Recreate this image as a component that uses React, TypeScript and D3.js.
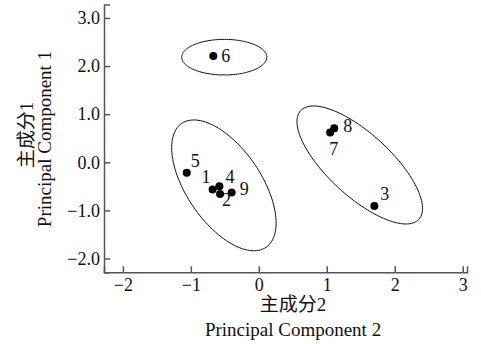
import React, { useEffect, useRef } from "react";
import * as d3 from "d3";

// samples and their scores (PC2 on x, PC1 on y)
const sampleIds = ["1", "2", "3", "4", "5", "6", "7", "8", "9"];
const pc2Values = [-0.68, -0.57, 1.7, -0.58, -1.06, -0.67, 1.05, 1.11, -0.4];
const pc1Values = [-0.565, -0.66, -0.91, -0.5, -0.22, 2.21, 0.62, 0.71, -0.63];

const xTicks = [-2, -1, 0, 1, 2, 3];
const yTicks = [-2, -1, 0, 1, 2, 3];

// group ellipses: centre and two conjugate semi-axes, in data units
const ellipseCx = [-0.508, -0.514, 1.485];
const ellipseCy = [2.185, -0.48, -0.056];
const ellipseU = [
  [0.626, 0],
  [0.62, -1.288],
  [0.87, -1.13],
];
const ellipseV = [
  [0, -0.37],
  [-0.454, -0.436],
  [-0.311, -0.477],
];

// label placement next to each dot: [dx, dy, anchor]
const labelPlace: Record<string, [number, number, string]> = {
  "1": [-2, -6, "end"],
  "2": [2, 12, "start"],
  "3": [6, -6, "start"],
  "4": [6, -3, "start"],
  "5": [4, -6, "start"],
  "6": [8, 6, "start"],
  "7": [-1, 23, "start"],
  "8": [9, 4, "start"],
  "9": [8, 2, "start"],
};

const serif = "'Liberation Serif', 'Times New Roman', 'Noto Sans CJK SC', serif";

function App() {
  const svgRef = useRef<SVGSVGElement>(null);
  const width = 481;
  const height = 344;

  useEffect(() => {
    const svg = d3.select(svgRef.current);
    svg.selectAll("*").remove();

    const x = d3.scaleLinear().domain([-2.278, 3.063]).range([104, 467]);
    const y = d3.scaleLinear().domain([-2.287, 3.28]).range([272.3, 4.5]);

    // ellipses
    const line = d3
      .line<[number, number]>()
      .x((d) => x(d[0]))
      .y((d) => y(d[1]))
      .curve(d3.curveLinearClosed);

    ellipseCx.forEach((cx, i) => {
      const cy = ellipseCy[i];
      const u = ellipseU[i];
      const v = ellipseV[i];
      const pts: [number, number][] = d3.range(0, 120).map((k) => {
        const t = (k / 120) * Math.PI * 2;
        return [
          cx + u[0] * Math.cos(t) + v[0] * Math.sin(t),
          cy + u[1] * Math.cos(t) + v[1] * Math.sin(t),
        ];
      });
      svg
        .append("path")
        .attr("d", line(pts))
        .attr("fill", "none")
        .attr("stroke", "#111")
        .attr("stroke-width", 1);
    });

    // axes
    const yAxis = svg
      .append("g")
      .attr("transform", "translate(104,0)")
      .call(
        d3
          .axisLeft(y)
          .tickValues(yTicks)
          .tickSize(-6)
          .tickPadding(4)
          .tickFormat(d3.format(".1f"))
      );
    const xAxis = svg
      .append("g")
      .attr("transform", "translate(0,272.3)")
      .call(
        d3
          .axisBottom(x)
          .tickValues(xTicks)
          .tickSize(-6)
          .tickPadding(6)
          .tickFormat(d3.format("d"))
      );
    [yAxis, xAxis].forEach((g) => {
      g.attr("font-family", serif).attr("font-size", 18);
      g.selectAll("path, line").attr("stroke", "#555").attr("stroke-width", 1.5);
      g.selectAll("text").attr("fill", "#111");
    });

    // dots
    svg
      .append("g")
      .selectAll("circle")
      .data(sampleIds)
      .enter()
      .append("circle")
      .attr("cx", (_d, i) => x(pc2Values[i]))
      .attr("cy", (_d, i) => y(pc1Values[i]))
      .attr("r", 4)
      .attr("fill", "#000");

    svg
      .append("g")
      .selectAll("text")
      .data(sampleIds)
      .enter()
      .append("text")
      .attr("x", (d, i) => x(pc2Values[i]) + labelPlace[d][0])
      .attr("y", (d, i) => y(pc1Values[i]) + labelPlace[d][1])
      .attr("text-anchor", (d) => labelPlace[d][2])
      .style("font-family", serif)
      .style("font-size", "18px")
      .style("fill", "#111")
      .text((d) => d);

    // axis titles
    const titles = [
      { text: "主成分2", tx: 293, ty: 311, rot: 0 },
      { text: "Principal Component 2", tx: 293, ty: 336, rot: 0 },
      { text: "主成分1", tx: 33, ty: 135, rot: -90 },
      { text: "Principal Component 1", tx: 51, ty: 139, rot: -90 },
    ];
    svg
      .append("g")
      .selectAll("text")
      .data(titles)
      .enter()
      .append("text")
      .attr("transform", (d) => `translate(${d.tx},${d.ty}) rotate(${d.rot})`)
      .attr("text-anchor", "middle")
      .style("font-family", serif)
      .style("font-size", "19px")
      .style("fill", "#111")
      .text((d) => d.text);
  }, []);

  return (
    <svg
      ref={svgRef}
      width={width}
      height={height}
      style={{ position: "absolute", left: 0, top: 0, background: "#fff" }}
    ></svg>
  );
}

export default App;
